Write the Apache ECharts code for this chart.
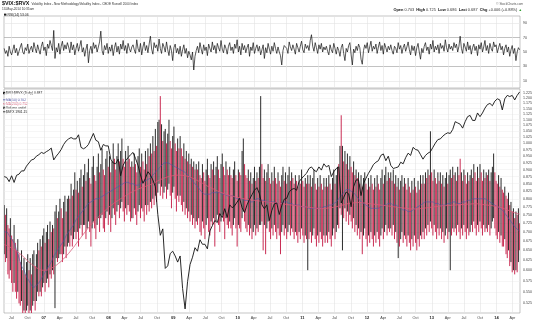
<!DOCTYPE html>
<html>
<head>
<meta charset="utf-8">
<script src="https://cdn.jsdelivr.net/npm/echarts@6.0.0/dist/echarts.min.js"></script>
<style>
  html, body { margin: 0; padding: 0; background: #fff; }
  #chart { width: 540px; height: 327px; }
</style>
</head>
<body>
<div id="chart"></div>
<script>
// ---- weekly $VIX:$RVX bars (weeks starting 2006-05-22) ----
const ratioOpen0 = 0.70;
const ratioClose = [
  0.71,0.69,0.70,0.66,0.65,0.66,0.63,0.62,0.64,0.61,0.60,0.61,0.58,
  0.57,0.58,0.55,0.56,0.54,0.55,0.57,0.55,0.56,0.54,0.57,0.58,0.56,
  0.58,0.60,0.59,0.61,0.60,0.62,0.63,0.61,0.63,0.64,0.62,0.65,0.64,
  0.66,0.64,0.68,0.70,0.68,0.69,0.71,0.70,0.68,0.71,0.72,0.70,0.72,
  0.74,0.73,0.76,0.74,0.75,0.78,0.76,0.77,0.75,0.78,0.80,0.77,0.79,
  0.81,0.78,0.80,0.82,0.79,0.77,0.80,0.82,0.80,0.78,0.81,0.83,0.80,
  0.82,0.84,0.81,0.80,0.83,0.85,0.82,0.84,0.81,0.83,0.86,0.84,0.82,
  0.85,0.87,0.84,0.86,0.88,0.85,0.83,0.86,0.84,0.87,0.85,0.83,0.84,
  0.82,0.85,0.83,0.81,0.84,0.86,0.83,0.85,0.84,0.82,0.86,0.84,0.87,
  0.85,0.88,0.86,0.90,0.87,0.91,0.88,0.93,0.96,0.91,0.94,0.90,0.92,
  0.94,0.90,0.93,0.95,0.91,0.89,0.92,0.94,0.90,0.88,0.91,0.89,0.91,
  0.88,0.86,0.89,0.85,0.87,0.84,0.86,0.83,0.85,0.82,0.84,0.81,0.83,
  0.81,0.83,0.80,0.79,0.82,0.80,0.78,0.81,0.83,0.80,0.79,0.82,0.81,
  0.83,0.80,0.82,0.84,0.81,0.79,0.82,0.84,0.82,0.80,0.83,0.81,0.80,
  0.82,0.80,0.79,0.81,0.83,0.80,0.78,0.81,0.80,0.79,0.83,0.85,0.82,
  0.80,0.79,0.81,0.78,0.80,0.77,0.79,0.81,0.78,0.80,0.79,0.81,0.84,
  0.82,0.79,0.81,0.78,0.80,0.82,0.79,0.77,0.80,0.78,0.81,0.79,0.77,
  0.80,0.78,0.76,0.79,0.81,0.78,0.80,0.77,0.79,0.81,0.78,0.80,0.79,
  0.77,0.79,0.78,0.76,0.79,0.77,0.80,0.78,0.76,0.78,0.77,0.79,0.77,
  0.79,0.76,0.78,0.80,0.77,0.75,0.78,0.76,0.79,0.77,0.75,0.78,0.76,
  0.78,0.76,0.79,0.77,0.75,0.78,0.80,0.77,0.79,0.81,0.80,0.88,0.84,
  0.87,0.83,0.86,0.82,0.85,0.81,0.84,0.82,0.80,0.83,0.79,0.81,0.78,
  0.80,0.77,0.79,0.76,0.78,0.80,0.77,0.75,0.78,0.76,0.79,0.77,0.75,
  0.78,0.76,0.79,0.77,0.75,0.78,0.80,0.77,0.79,0.81,0.78,0.80,0.79,
  0.80,0.78,0.81,0.77,0.79,0.76,0.78,0.75,0.77,0.79,0.76,0.78,0.77,
  0.75,0.78,0.76,0.74,0.77,0.75,0.78,0.76,0.74,0.77,0.75,0.78,0.77,
  0.79,0.77,0.80,0.78,0.81,0.79,0.83,0.80,0.78,0.81,0.79,0.77,0.80,
  0.78,0.80,0.77,0.79,0.76,0.78,0.80,0.77,0.79,0.81,0.78,0.80,0.79,
  0.80,0.78,0.81,0.79,0.77,0.80,0.78,0.81,0.79,0.77,0.80,0.78,0.79,
  0.81,0.79,0.82,0.80,0.78,0.81,0.79,0.82,0.80,0.78,0.81,0.79,0.80,
  0.79,0.81,0.78,0.80,0.82,0.86,0.80,0.78,0.77,0.79,0.76,0.78,0.75,
  0.74,0.76,0.73,0.72,0.74,0.70,0.71,0.68,0.69,0.66,0.68,0.67,0.70,0.687
];
const ratioHigh = [
  0.78,0.75,0.77,0.72,0.71,0.74,0.69,0.68,0.72,0.67,0.65,0.68,0.64,
  0.62,0.65,0.60,0.63,0.59,0.62,0.64,0.60,0.63,0.59,0.64,0.65,0.61,
  0.64,0.67,0.65,0.68,0.66,0.69,0.71,0.67,0.70,0.72,0.68,0.73,0.70,
  0.72,0.71,0.76,0.78,0.74,0.76,0.80,0.77,0.74,0.79,0.81,0.76,0.80,
  0.81,0.80,0.85,0.81,0.83,0.89,0.83,0.86,0.82,0.87,0.90,0.84,0.88,
  0.92,0.86,0.89,0.94,0.87,0.85,0.91,0.95,0.88,0.86,0.91,0.96,0.89,
  0.92,0.98,0.90,0.88,0.94,0.97,0.91,0.95,0.89,0.93,1.00,0.94,0.90,
  0.95,1.00,0.93,0.97,1.02,0.94,0.91,0.97,0.93,0.99,0.94,0.91,0.93,
  0.91,0.96,0.92,0.89,0.95,0.98,0.91,0.96,0.93,0.90,0.97,0.92,0.98,
  0.95,1.00,0.96,1.03,0.97,1.06,0.99,1.09,1.10,1.21,1.08,1.01,1.05,
  1.06,1.00,1.04,1.10,1.01,0.98,1.03,1.07,1.00,0.97,1.02,0.98,1.03,
  0.98,0.95,1.00,0.94,0.97,0.93,0.96,0.92,0.94,0.91,0.93,0.90,0.92,
  0.90,0.93,0.88,0.87,0.92,0.89,0.86,0.90,0.94,0.88,0.87,0.92,0.90,
  0.93,0.88,0.91,0.95,0.90,0.87,0.92,0.96,0.91,0.88,0.93,0.90,0.88,
  0.91,0.88,0.87,0.90,0.93,0.88,0.86,0.90,0.89,0.88,0.97,1.02,0.92,
  0.88,0.87,0.90,0.86,0.89,0.85,0.87,0.91,0.86,0.89,0.87,0.91,1.21,
  0.92,0.87,0.90,0.86,0.89,0.92,0.87,0.85,0.89,0.86,0.91,0.87,0.85,
  0.89,0.86,0.84,0.88,0.91,0.86,0.89,0.85,0.88,0.91,0.86,0.89,0.87,
  0.85,0.88,0.86,0.84,0.88,0.85,0.90,0.86,0.84,0.87,0.85,0.88,0.85,
  0.88,0.84,0.87,0.90,0.85,0.83,0.87,0.84,0.88,0.85,0.83,0.87,0.84,
  0.87,0.84,0.88,0.85,0.83,0.87,0.90,0.85,0.88,0.91,0.92,0.99,1.12,
  0.99,0.93,0.97,0.92,0.96,0.90,0.95,0.91,0.89,0.93,0.88,0.90,0.87,
  0.89,0.85,0.88,0.84,0.87,0.89,0.85,0.83,0.87,0.84,0.88,0.85,0.83,
  0.87,0.84,0.88,0.85,0.83,0.87,0.90,0.85,0.88,0.91,0.86,0.89,0.87,
  0.89,0.86,0.90,0.85,0.88,0.84,0.87,0.83,0.86,0.88,0.84,0.87,0.85,
  0.83,0.87,0.84,0.82,0.86,0.83,0.87,0.84,0.82,0.86,0.83,0.88,0.85,
  0.88,0.85,0.89,0.87,0.90,0.88,1.05,0.89,0.86,0.90,0.87,0.85,0.89,
  0.86,0.89,0.85,0.88,0.84,0.87,0.89,0.85,0.88,0.90,0.87,0.91,0.88,
  0.89,0.86,0.91,0.88,0.94,0.89,0.86,0.90,0.88,0.85,0.89,0.86,0.88,
  0.90,0.87,0.92,0.89,0.86,0.91,0.87,0.92,0.89,0.86,0.90,0.87,0.89,
  0.88,0.90,0.86,0.89,0.91,0.96,0.89,0.86,0.85,0.88,0.84,0.87,0.83,
  0.82,0.84,0.81,0.80,0.82,0.78,0.79,0.76,0.77,0.74,0.76,0.75,0.77,0.725
];
const ratioLow = [
  0.64,0.62,0.63,0.59,0.58,0.60,0.57,0.55,0.57,0.55,0.535,0.55,0.525,
  0.52,0.53,0.505,0.51,0.505,0.51,0.52,0.505,0.51,0.505,0.52,0.53,0.51,
  0.53,0.55,0.54,0.55,0.54,0.56,0.57,0.55,0.57,0.58,0.56,0.59,0.58,
  0.60,0.59,0.515,0.63,0.62,0.63,0.64,0.64,0.62,0.64,0.66,0.63,0.66,
  0.67,0.66,0.69,0.66,0.68,0.70,0.68,0.70,0.66,0.71,0.72,0.69,0.72,
  0.72,0.68,0.71,0.73,0.70,0.66,0.71,0.73,0.71,0.68,0.72,0.74,0.70,
  0.74,0.75,0.71,0.70,0.74,0.76,0.72,0.75,0.70,0.74,0.77,0.75,0.72,
  0.76,0.78,0.74,0.77,0.79,0.76,0.73,0.77,0.75,0.78,0.76,0.73,0.74,
  0.74,0.77,0.75,0.72,0.76,0.78,0.74,0.77,0.76,0.73,0.78,0.75,0.78,
  0.76,0.79,0.77,0.80,0.78,0.81,0.79,0.82,0.85,0.81,0.84,0.80,0.82,
  0.84,0.80,0.83,0.85,0.81,0.77,0.82,0.84,0.80,0.76,0.81,0.79,0.81,
  0.78,0.76,0.79,0.75,0.77,0.74,0.76,0.73,0.75,0.72,0.74,0.71,0.73,
  0.72,0.74,0.70,0.69,0.73,0.71,0.68,0.72,0.74,0.70,0.69,0.73,0.72,
  0.74,0.66,0.73,0.75,0.72,0.70,0.73,0.75,0.73,0.68,0.74,0.72,0.71,
  0.73,0.71,0.69,0.72,0.74,0.71,0.66,0.72,0.71,0.70,0.74,0.76,0.73,
  0.71,0.70,0.72,0.69,0.71,0.68,0.70,0.72,0.69,0.71,0.70,0.72,0.72,
  0.73,0.65,0.72,0.64,0.71,0.73,0.70,0.68,0.71,0.69,0.72,0.70,0.68,
  0.71,0.69,0.64,0.70,0.72,0.69,0.71,0.68,0.70,0.72,0.69,0.71,0.70,
  0.68,0.70,0.69,0.67,0.70,0.68,0.71,0.69,0.67,0.69,0.68,0.60,0.68,
  0.70,0.67,0.69,0.71,0.68,0.66,0.69,0.67,0.70,0.68,0.66,0.69,0.67,
  0.69,0.67,0.70,0.68,0.66,0.69,0.71,0.68,0.70,0.72,0.71,0.77,0.75,
  0.65,0.74,0.77,0.73,0.76,0.72,0.75,0.73,0.71,0.74,0.70,0.72,0.69,
  0.71,0.68,0.70,0.64,0.69,0.71,0.68,0.66,0.69,0.67,0.70,0.68,0.66,
  0.69,0.67,0.70,0.68,0.66,0.69,0.71,0.68,0.70,0.72,0.69,0.71,0.70,
  0.71,0.69,0.72,0.68,0.70,0.67,0.63,0.66,0.68,0.70,0.67,0.69,0.68,
  0.66,0.69,0.67,0.65,0.68,0.66,0.69,0.67,0.65,0.68,0.66,0.69,0.68,
  0.70,0.68,0.71,0.69,0.72,0.70,0.73,0.71,0.69,0.72,0.70,0.68,0.71,
  0.69,0.71,0.68,0.70,0.67,0.69,0.71,0.68,0.70,0.60,0.69,0.71,0.70,
  0.71,0.69,0.72,0.70,0.68,0.71,0.69,0.72,0.70,0.68,0.71,0.69,0.70,
  0.72,0.70,0.73,0.71,0.69,0.72,0.70,0.73,0.71,0.69,0.72,0.70,0.71,
  0.70,0.72,0.69,0.71,0.73,0.74,0.71,0.69,0.68,0.70,0.67,0.69,0.66,
  0.66,0.68,0.64,0.63,0.65,0.61,0.62,0.595,0.60,0.59,0.60,0.595,0.62,0.65
];

// ---- RSI(14), weekly samples ----
const rsiValues = [
  55,48,52,44,58,50,46,53,60,49,55,45,51, 57,62,50,47,56,52,61,48,54,58,50,63,55,
  49,60,53,47,58,64,52,57,45,61,55,66,59, 52,80,41,56,50,62,47,58,65,52,60,54,63,
  57,49,64,53,60,46,55,62,51,58,66,50,56, 44,54,61,35,52,58,48,63,55,60,50,57,64,
  79,52,46,59,53,62,48,57,51,60,45,56,63, 50,58,47,61,54,66,52,59,48,62,55,50,57,
  60,53,48,67,55,50,62,46,57,64,52,59,49, 61,72,54,47,63,56,60,51,68,55,48,62,57,
  50,64,53,45,59,52,38,56,61,49,55,47,58, 44,53,60,48,55,42,51,46,39,50,25,44,52,
  58,49,63,54,47,60,52,57,45,61,55,50,64, 53,59,48,62,56,51,66,54,49,60,55,47,58,
  63,52,57,48,61,55,67,50,58,46,62,53,59, 49,56,61,44,57,52,63,48,55,60,51,58,46,
  53,60,41,56,49,62,54,47,58,51,63,55,48, 57,50,45,32,52,59,61,55,48,64,57,52,60,
  54,47,62,56,50,58,65,53,49,61,55,59,52, 66,74,58,51,63,56,48,60,54,62,50,57,53,
  58,51,46,60,53,49,62,55,47,57,52,44,56, 61,48,38,55,50,59,63,46,32,54,49,58,52,
  61,56,40,33,52,60,55,63,49,57,65,51,58, 54,61,48,57,64,52,59,47,62,56,50,58,53,
  60,52,47,58,55,49,63,54,59,48,56,61,51, 57,64,53,46,59,52,58,45,56,62,50,40,55,
  49,58,63,52,57,47,61,54,66,50,58,53,60, 48,62,55,59,51,67,56,50,61,54,58,52,63,
  56,61,50,58,72,55,48,62,57,51,64,53,59, 47,56,61,52,58,45,60,54,63,50,57,66,52,
  59,48,62,55,51,64,57,60,49,56,62,53,58, 46,55,60,50,57,44,53,59,48,55,38,50,56,53.06
];

// ---- every two weeks from 2006-05-22: $SPX, MA(50), MA(200) ----
const spxValues = [
  1270,1265,1240,1275,1235,1278,1285,1305,1305,1335,1355,1375,1380,1400,1410,1425,
  1418,1430,1440,1455,1375,1400,1420,1445,1480,1505,1520,1530,1520,1520,1550,1460,1450,1460,1480,1520,1560,1510,1500,1440,1480,1470,1470,
  1380,1355,1350,1380,1275,1340,1370,1390,1410,1425,1385,1340,1280,1230,1260,1300,1280,1250,1210,1060,960,990,820,830,880,890,
  870,845,870,745,676,770,835,865,905,890,940,920,920,900,980,1005,1030,1020,1065,1045,1090,1045,1110,1095,1105,1125,
  1145,1095,1070,1110,1140,1165,1190,1205,1170,1110,1090,1110,1030,1080,1115,1120,1060,1105,1140,1145,1180,1195,1200,1190,1240,1258,
  1275,1290,1320,1330,1310,1300,1330,1310,1350,1330,1340,1270,1300,1320,1330,1120,1150,1180,1170,1100,1210,1250,1250,1160,1230,1260,
  1290,1315,1345,1360,1370,1405,1415,1370,1400,1340,1320,1325,1330,1360,1350,1390,1420,1405,1460,1445,1440,1410,1380,1405,1420,1430,
  1460,1490,1515,1520,1540,1555,1565,1560,1590,1650,1640,1630,1600,1650,1690,1700,1660,1660,1720,1690,1720,1760,1790,1800,1780,1820,
  1840,1830,1745,1840,1870,1860,1870,1830,1870,1901.15
];
const ma50Values = [
  0.70,0.70,0.69,0.68,0.67,0.65,0.63,0.61,0.60,0.585,0.575,0.565,0.56,0.565,0.57,0.58,
  0.59,0.60,0.61,0.62,0.635,0.645,0.655,0.665,0.675,0.69,0.70,0.71,0.72,0.735,0.745,0.755,0.765,0.775,0.785,0.79,0.795,0.80,0.80,0.805,0.81,0.815,0.82,
  0.825,0.83,0.835,0.84,0.845,0.85,0.855,0.855,0.85,0.85,0.845,0.845,0.85,0.855,0.86,0.865,0.87,0.88,0.89,0.90,0.91,0.92,0.925,0.925,0.92,0.915,
  0.91,0.905,0.90,0.895,0.89,0.88,0.87,0.86,0.85,0.84,0.83,0.82,0.815,0.815,0.815,0.82,0.82,0.82,0.82,0.815,0.815,0.81,0.81,0.81,0.805,0.80,
  0.80,0.80,0.795,0.795,0.79,0.79,0.795,0.80,0.80,0.795,0.795,0.79,0.79,0.79,0.79,0.785,0.785,0.785,0.79,0.79,0.785,0.785,0.78,0.78,0.78,0.775,
  0.775,0.775,0.77,0.77,0.77,0.77,0.77,0.77,0.775,0.775,0.78,0.78,0.785,0.79,0.80,0.81,0.82,0.83,0.83,0.825,0.82,0.81,0.80,0.79,0.785,0.78,
  0.775,0.77,0.77,0.77,0.77,0.775,0.78,0.78,0.785,0.785,0.78,0.78,0.775,0.77,0.765,0.765,0.76,0.76,0.765,0.77,0.775,0.78,0.785,0.79,0.79,0.79,
  0.79,0.785,0.785,0.78,0.78,0.78,0.785,0.785,0.79,0.79,0.785,0.785,0.79,0.79,0.795,0.795,0.80,0.80,0.80,0.80,0.80,0.80,0.795,0.79,0.785,0.78,
  0.775,0.77,0.765,0.755,0.745,0.735,0.725,0.715,0.708,0.702
];
const ma200Values = [
  0.665,0.663,0.66,0.656,0.652,0.648,0.643,0.638,0.632,0.626,0.62,0.615,0.61,0.606,0.603,0.60,
  0.60,0.60,0.602,0.605,0.608,0.612,0.617,0.622,0.628,0.635,0.642,0.65,0.658,0.667,0.676,0.685,0.694,0.703,0.712,0.72,0.728,0.736,0.744,0.751,0.758,0.765,0.772,
  0.778,0.784,0.79,0.795,0.80,0.805,0.81,0.815,0.82,0.824,0.828,0.832,0.835,0.838,0.841,0.844,0.847,0.851,0.855,0.86,0.864,0.868,0.871,0.874,0.876,0.878,
  0.879,0.88,0.88,0.879,0.878,0.876,0.873,0.869,0.865,0.861,0.857,0.852,0.847,0.842,0.838,0.834,0.83,0.826,0.822,0.819,0.816,0.813,0.811,0.809,0.807,0.805,
  0.803,0.801,0.80,0.798,0.797,0.796,0.795,0.794,0.793,0.792,0.791,0.79,0.789,0.788,0.787,0.786,0.785,0.784,0.783,0.782,0.781,0.78,0.779,0.778,0.777,0.776,
  0.775,0.774,0.773,0.772,0.771,0.77,0.769,0.769,0.769,0.77,0.771,0.772,0.773,0.775,0.777,0.779,0.781,0.783,0.785,0.786,0.787,0.788,0.788,0.788,0.787,0.786,
  0.785,0.784,0.783,0.782,0.781,0.78,0.779,0.778,0.777,0.776,0.775,0.774,0.773,0.772,0.771,0.77,0.769,0.768,0.768,0.768,0.768,0.769,0.77,0.771,0.772,0.773,
  0.774,0.775,0.776,0.777,0.778,0.778,0.779,0.779,0.78,0.78,0.781,0.781,0.782,0.782,0.783,0.783,0.784,0.784,0.784,0.783,0.782,0.781,0.78,0.779,0.778,0.776,
  0.775,0.773,0.771,0.768,0.765,0.762,0.759,0.756,0.754,0.752
];

// ---- axis ticks ----
const xTickDates = [
  '2006-07-01','2006-10-01',
  '2007-01-01','2007-04-01','2007-07-01','2007-10-01',
  '2008-01-01','2008-04-01','2008-07-01','2008-10-01',
  '2009-01-01','2009-04-01','2009-07-01','2009-10-01',
  '2010-01-01','2010-04-01','2010-07-01','2010-10-01',
  '2011-01-01','2011-04-01','2011-07-01','2011-10-01',
  '2012-01-01','2012-04-01','2012-07-01','2012-10-01',
  '2013-01-01','2013-04-01','2013-07-01','2013-10-01',
  '2014-01-01','2014-04-01'
];
const xTickLabels = [
  'Jul','Oct',
  '07','Apr','Jul','Oct', '08','Apr','Jul','Oct', '09','Apr','Jul','Oct',
  '10','Apr','Jul','Oct', '11','Apr','Jul','Oct', '12','Apr','Jul','Oct',
  '13','Apr','Jul','Oct', '14','Apr'
];
const ratioTicks = [0.525,0.55,0.575,0.6,0.625,0.65,0.675,0.7,0.725,0.75,0.775,0.8,0.825,0.85,
  0.875,0.9,0.925,0.95,0.975,1.0,1.025,1.05,1.075,1.1,1.125,1.15,1.175,1.2,1.225];
const rsiTicks = [10, 30, 50, 70, 90];

// ---- assembly ----
const DAY = 86400000;
const toTime = s => Date.parse(s + 'T00:00:00Z');
const weekStart = toTime('2006-05-22');
const xMin = toTime('2006-05-21');
const xMax = toTime('2014-05-14');
const xTickTimes = xTickDates.map(toTime);

// [time, open, close, low, high]; each bar opens at the previous close
const ratioBars = ratioClose.map((c, i) => {
  const o = i ? ratioClose[i - 1] : ratioOpen0;
  return [weekStart + i * 7 * DAY, o, c, Math.min(ratioLow[i], o, c), Math.max(ratioHigh[i], o, c)];
});
const weekly = arr => arr.map((v, i) => [weekStart + i * 7 * DAY, v]);
const biweekly = arr => arr.map((v, i) => [weekStart + i * 14 * DAY, v]);

const FONT = '"Liberation Sans", Arial, sans-serif';
const RED = '#c3143f';
const MA50_COLOR = '#4d55a8';
const MA200_COLOR = '#d95c79';
const GRID_LINE = '#e3e3e3';

function valueBox(value, text, color, bg, fg) {
  return {
    yAxis: value,
    label: {
      show: true, position: 'end', distance: 1.5, formatter: text,
      fontFamily: FONT, fontSize: 3.6, color: fg || color,
      backgroundColor: bg || '#fff', borderColor: color, borderWidth: 0.6,
      padding: [0.6, 1, 0.3, 1]
    }
  };
}

// high-low bar: black when the week closed up, red when it closed down
function renderRangeBar(params, api) {
  const t = api.value(0), open = api.value(1), close = api.value(2);
  const lo = api.coord([t, api.value(3)]);
  const hi = api.coord([t, api.value(4)]);
  return {
    type: 'line',
    shape: { x1: lo[0], y1: lo[1], x2: hi[0], y2: hi[1] },
    style: { stroke: close < open ? RED : '#141414', lineWidth: 0.9 }
  };
}

const chart = echarts.init(document.getElementById('chart'), null, { renderer: 'canvas' });

const xLabelFormatter = v => {
  let idx = -1;
  for (let i = 0; i < xTickTimes.length; i++) if (Math.abs(xTickTimes[i] - v) < DAY) idx = i;
  if (idx < 0) return '';
  const t = xTickLabels[idx];
  return /^\d+$/.test(t) ? '{y|' + t + '}' : t;
};

chart.setOption({
  animation: false,
  backgroundColor: '#fff',
  textStyle: { fontFamily: FONT },
  grid: [
    { left: 4, right: 20, top: 16, height: 72, show: true, borderColor: '#a0a0a0', borderWidth: 0.6, backgroundColor: 'transparent' },
    { left: 4, right: 20, top: 89, height: 224, show: true, borderColor: '#a0a0a0', borderWidth: 0.6, backgroundColor: 'transparent' }
  ],
  xAxis: [
    {
      gridIndex: 0, type: 'value', min: xMin, max: xMax, scale: true,
      axisLine: { show: false }, axisLabel: { show: false },
      axisTick: { show: false, customValues: xTickTimes },
      splitLine: { show: true, lineStyle: { color: GRID_LINE, width: 0.6 } }
    },
    {
      gridIndex: 1, type: 'value', min: xMin, max: xMax, scale: true,
      axisLine: { show: false },
      axisTick: { show: false, customValues: xTickTimes },
      axisLabel: {
        customValues: xTickTimes, formatter: xLabelFormatter, hideOverlap: false,
        fontFamily: FONT, fontSize: 3.8, color: '#444', margin: 3,
        rich: { y: { fontFamily: FONT, fontSize: 4, fontWeight: 'bold', color: '#222' } }
      },
      splitLine: { show: true, lineStyle: { color: GRID_LINE, width: 0.6 } }
    }
  ],
  yAxis: [
    {
      gridIndex: 0, type: 'value', min: 0, max: 100, position: 'right',
      axisLine: { show: false },
      axisTick: { show: false, customValues: rsiTicks },
      axisLabel: { customValues: rsiTicks, fontFamily: FONT, fontSize: 3.6, color: '#444', margin: 3 },
      splitLine: { show: true, lineStyle: { color: ['#e6e6e6', '#a8a8a8', '#e6e6e6', '#a8a8a8', '#e6e6e6'], width: 0.7 } }
    },
    {
      gridIndex: 1, type: 'log', logBase: 10, min: 0.505, max: 1.245, position: 'right',
      axisLine: { show: false },
      axisTick: { show: false, customValues: ratioTicks },
      axisLabel: {
        customValues: ratioTicks, formatter: v => Number(v).toFixed(3),
        fontFamily: FONT, fontSize: 3.6, color: '#444', margin: 3
      },
      splitLine: { show: true, lineStyle: { color: '#ececec', width: 0.5 } }
    },
    {
      gridIndex: 1, type: 'log', logBase: 10, min: 663, max: 1928, show: false,
      splitLine: { show: false }
    }
  ],
  series: [
    {
      name: 'RSI(14)', type: 'line', xAxisIndex: 0, yAxisIndex: 0,
      data: weekly(rsiValues), symbol: 'none', silent: true,
      lineStyle: { color: '#111', width: 0.7 },
      markLine: {
        silent: true, symbol: ['none', 'none'], lineStyle: { opacity: 0 },
        data: [valueBox(53.06, '53.06', '#777', '#fff', '#333')]
      }
    },
    {
      name: 'MA(50)', type: 'line', xAxisIndex: 1, yAxisIndex: 1,
      data: biweekly(ma50Values), symbol: 'none', silent: true, smooth: 0.3,
      lineStyle: { color: MA50_COLOR, width: 0.6 },
      markLine: {
        silent: true, symbol: ['none', 'none'], lineStyle: { opacity: 0 },
        data: [
          valueBox(ma200Values[ma200Values.length - 1], ma200Values[ma200Values.length - 1].toFixed(3), MA200_COLOR),
          valueBox(ma50Values[ma50Values.length - 1], ma50Values[ma50Values.length - 1].toFixed(3), MA50_COLOR),
          valueBox(ratioClose[ratioClose.length - 1], ratioClose[ratioClose.length - 1].toFixed(3), '#111', '#fff', '#000')
        ]
      }
    },
    {
      name: '$VIX:$RVX', type: 'custom', xAxisIndex: 1, yAxisIndex: 1,
      data: ratioBars, encode: { x: 0, y: [3, 4] },
      renderItem: renderRangeBar, silent: true, clip: true
    },
    {
      name: 'MA(200)', type: 'line', xAxisIndex: 1, yAxisIndex: 1,
      data: biweekly(ma200Values), symbol: 'none', silent: true, smooth: 0.3,
      lineStyle: { color: MA200_COLOR, width: 0.8 }
    },
    {
      name: '$SPX', type: 'line', xAxisIndex: 1, yAxisIndex: 2,
      data: biweekly(spxValues), symbol: 'none', silent: true,
      lineStyle: { color: '#111', width: 0.9 },
      markLine: {
        silent: true, symbol: ['none', 'none'], lineStyle: { opacity: 0 },
        data: [valueBox(spxValues[spxValues.length - 1], spxValues[spxValues.length - 1].toFixed(2), '#111', '#fff', '#000')]
      }
    }
  ],
  graphic: [
    { type: 'text', x: 2, y: 3.5, style: { text: '$VIX:$RVX', font: 'bold 5.4px ' + FONT, fill: '#111', verticalAlign: 'middle' } },
    { type: 'text', x: 31.5, y: 3.8, style: { text: 'Volatility Index - New Methodology/Volatility Index - CBOE Russell 2000 Index', font: '3.1px ' + FONT, fill: '#333', verticalAlign: 'middle' } },
    { type: 'text', x: 2, y: 9.5, style: { text: '13-May-2014 10:35am', font: '3.2px ' + FONT, fill: '#333', verticalAlign: 'middle' } },
    { type: 'text', x: 523, y: 4, style: { text: '© StockCharts.com', font: '3.1px ' + FONT, fill: '#555', align: 'right', verticalAlign: 'middle' } },
    {
      type: 'text', x: 522, y: 10.2,
      style: {
        text: '{b|Open} 0.703  {b|High} 0.725  {b|Low} 0.686  {b|Last} 0.687  {b|Chg} +0.006 (+0.88%) {g|▲}',
        font: '3.9px ' + FONT, fill: '#333', align: 'right', verticalAlign: 'middle',
        rich: { b: { font: 'bold 3.9px ' + FONT, fill: '#111' }, g: { font: '3.6px ' + FONT, fill: '#2a9a2a' } }
      }
    },
    { type: 'rect', shape: { x: 4, y: 13.6, width: 2.4, height: 2 }, style: { fill: '#222' } },
    { type: 'text', x: 7.5, y: 14.7, style: { text: 'RSI(14) 53.06', font: '3.4px ' + FONT, fill: '#222', verticalAlign: 'middle' } },

    // main panel legend
    { type: 'rect', shape: { x: 3, y: 91.8, width: 2.2, height: 2.4 }, style: { fill: '#222' } },
    { type: 'text', x: 6, y: 93.1, style: { text: '$VIX:$RVX (Daily) 0.687', font: '3.3px ' + FONT, fill: '#111', verticalAlign: 'middle' } },
    { type: 'line', shape: { x1: 3, y1: 99.8, x2: 5.4, y2: 99.8 }, style: { stroke: MA50_COLOR, lineWidth: 0.8 } },
    { type: 'text', x: 6, y: 99.8, style: { text: 'MA(50) 0.702', font: '3.3px ' + FONT, fill: MA50_COLOR, verticalAlign: 'middle' } },
    { type: 'line', shape: { x1: 3, y1: 103.8, x2: 5.4, y2: 103.8 }, style: { stroke: MA200_COLOR, lineWidth: 0.8 } },
    { type: 'text', x: 6, y: 103.8, style: { text: 'MA(200) 0.752', font: '3.3px ' + FONT, fill: MA200_COLOR, verticalAlign: 'middle' } },
    { type: 'rect', shape: { x: 3, y: 106.7, width: 2.2, height: 2.2 }, style: { fill: '#555' } },
    { type: 'text', x: 6, y: 107.8, style: { text: 'Volume undef', font: '3.3px ' + FONT, fill: '#333', verticalAlign: 'middle' } },
    { type: 'line', shape: { x1: 3, y1: 111.8, x2: 5.4, y2: 111.8 }, style: { stroke: '#111', lineWidth: 0.8 } },
    { type: 'text', x: 6, y: 111.8, style: { text: '$SPX 1901.15', font: '3.3px ' + FONT, fill: '#111', verticalAlign: 'middle' } }
  ]
});
</script>
</body>
</html>
